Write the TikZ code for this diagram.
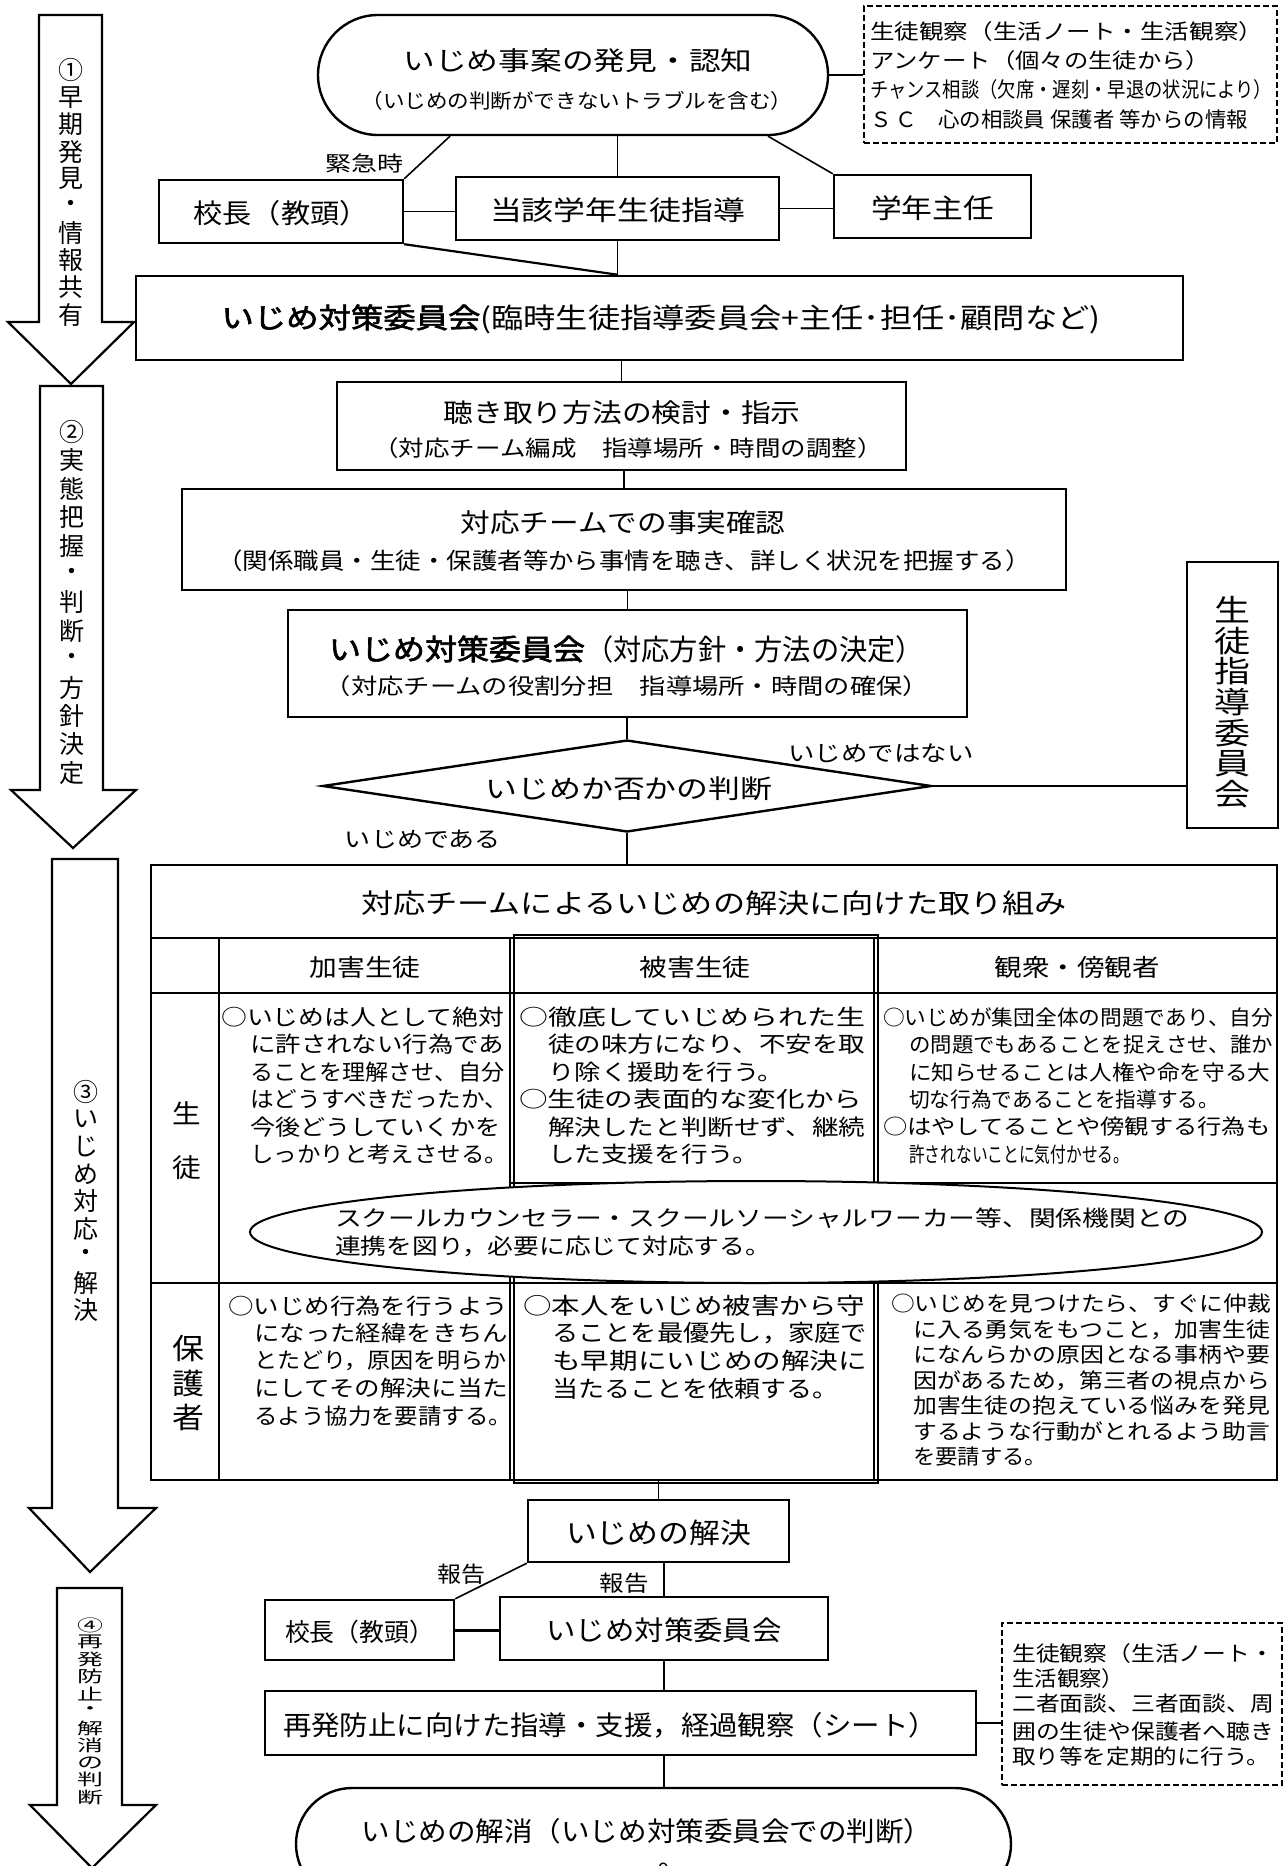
\documentclass[tikz,border=0pt]{standalone}
\usepackage{fontspec}
\setmainfont{Noto Sans CJK JP}
\newfontfamily\jpb{Noto Sans CJK JP}[FakeBold=2]
\usetikzlibrary{shapes.geometric,fit,calc}
\newcommand\W[2]{\resizebox{#1pt}{\height}{#2}}
\newcommand\fs[1]{\fontsize{#1}{#1}\selectfont}
\newcommand\TL[4]{\node[anchor=west,inner sep=0pt] at (#1,#2) {\W{#3}{#4}};}
\begin{document}
\begin{tikzpicture}[x=1pt,y=-1pt,
  bx/.style={draw, line width=2.4pt, inner sep=0pt},
  cn/.style={line width=1.6pt},
  dbox/.style={draw, line width=1.5pt, dash pattern=on 6pt off 3pt, inner sep=0pt},
  tc/.style={inner sep=0pt},
  barrow/.style={draw, line width=2.2pt, fill=white, line join=miter}]
\useasboundingbox (0,0) rectangle (1284,1866);
\fill[white] (0,0) rectangle (1284,1866);

% ---------- left block arrows ----------
\draw[barrow] (39,15) -- (102,15) -- (102,322) -- (134,322) -- (71,384) -- (8,322) -- (39,322) -- cycle;
\draw[barrow] (40,386) -- (103,386) -- (103,790) -- (136,790) -- (73,848) -- (11,790) -- (40,790) -- cycle;
\draw[barrow] (52,859) -- (118,859) -- (118,1508) -- (156,1508) -- (90,1572) -- (29,1508) -- (52,1508) -- cycle;
\draw[barrow] (57,1588) -- (122,1588) -- (122,1805) -- (156,1805) -- (92,1868) -- (30,1805) -- (57,1805) -- cycle;
\foreach \c [count=\i from 0] in {①,早,期,発,見,・,情,報,共,有}
  \node[tc,font=\fs{25}] at (71,{70+27.2*\i}) {\c};
\foreach \c [count=\i from 0] in {②,実,態,把,握,・,判,断,・,方,針,決,定}
  \node[tc,font=\fs{25}] at (72,{432+28.4*\i}) {\c};
\foreach \c [count=\i from 0] in {③,い,じ,め,対,応,・,解,決}
  \node[tc,font=\fs{25}] at (86,{1092+27.3*\i}) {\c};
\foreach \c [count=\i from 0] in {④,再,発,防,止,・,解,消,の,判,断}
  \node[tc,font=\fs{26}] at (90,{1625+17.2*\i}) {\scalebox{1}[0.62]{\c}};

% ---------- top part ----------
\node[bx, rounded corners=60pt, fit={(318,15)(828,135)}] (oval) {};
\node[tc,font=\fs{26}] at (578,61) {\W{349}{いじめ事案の発見・認知}};
\node[tc,font=\fs{20}] at (577,101) {\W{431}{（いじめの判断ができないトラブルを含む）}};

\node[dbox, fit={(864,6)(1277,143)}] (dash1) {};
\begin{scope}[font=\fs{21}]
\TL{870}{32}{393}{生徒観察（生活ノート・生活観察）}
\TL{870}{61}{340}{アンケート（個々の生徒から）}
\TL{870}{90}{402}{チャンス相談（欠席・遅刻・早退の状況により）}
\TL{870}{119}{378}{Ｓ\,Ｃ　心の相談員 保護者 等からの情報}
\end{scope}
\draw[cn] (oval.east) -- (oval.east -| dash1.west);

\node[tc,font=\fs{21}] (kinkyu) at (364,163) {\W{78}{緊急時}};
\node[bx, fit={(159,180)(403,243)}] (kocho) {};
\node[tc,font=\fs{27}] at ($(kocho.center)+(0,2)$) {\W{175}{校長（教頭）}};
\node[bx, fit={(456,177)(779,240)}] (toga) {};
\node[tc,font=\fs{27}] at ($(toga.center)+(0,2)$) {\W{255}{当該学年生徒指導}};
\node[bx, fit={(834,175)(1031,238)}] (gakunen) {};
\node[tc,font=\fs{27}] at ($(gakunen.center)+(0,2)$) {\W{123}{学年主任}};

\draw[cn] ($(oval.south)+(-123,0)$) -- (kocho.north east);
\draw[cn] (toga.north |- oval.south) -- (toga.north);
\draw[cn] ($(oval.south)+(195,0)$) -- (gakunen.north west);
\draw[cn] (kocho.east) -- (kocho.east -| toga.west);
\draw[cn] (toga.east) -- (toga.east -| gakunen.west);

\node[bx, line width=2.6pt, fit={(136,276)(1183,360)}] (big) {};
\node[tc,font=\fs{28}] at (661,319)
  {\W{259}{\jpb いじめ対策委員会}\W{620}{(臨時生徒指導委員会+主任･担任･顧問など)}};
\draw[cn, line width=2.2pt] (kocho.south east) -- (toga.south |- big.north);
\draw[cn] (toga.south) -- (toga.south |- big.north);

% ---------- middle flow ----------
\node[bx, fit={(337,382)(906,470)}] (kiki) {};
\node[tc,font=\fs{26}] at (622,413) {\W{357}{聴き取り方法の検討・指示}};
\node[tc,font=\fs{22}] at (628,448) {\W{509}{（対応チーム編成　指導場所・時間の調整）}};
\draw[cn] (kiki.north |- big.south) -- (kiki.north);

\node[bx, fit={(182,489)(1066,590)}] (jijitsu) {};
\node[tc,font=\fs{26}] at (623,523) {\W{325}{対応チームでの事実確認}};
\node[tc,font=\fs{23}] at (624,561) {\W{813}{（関係職員・生徒・保護者等から事情を聴き、詳しく状況を把握する）}};
\draw[cn] (jijitsu.north |- kiki.south) -- (jijitsu.north);

\node[bx, fit={(288,610)(967,717)}] (hoshin) {};
\node[tc,font=\fs{29}] at (626.5,649) {\W{256}{\jpb いじめ対策委員会}\W{339}{（対応方針・方法の決定）}};
\node[tc,font=\fs{22}] at (627,686) {\W{604}{（対応チームの役割分担　指導場所・時間の確保）}};
\draw[cn] (hoshin.north |- jijitsu.south) -- (hoshin.north);

\node[draw, line width=2.4pt, diamond, minimum width=609pt, minimum height=92pt, inner sep=0pt] (dia) at (627,786) {};
\node[tc,font=\fs{26}] at (629,789) {\W{287}{いじめか否かの判断}};
\draw[cn] (dia.north |- hoshin.south) -- (dia.north);

\node[bx, fit={(1187,562)(1278,828)}] (shido) {};
\foreach \c [count=\i from 0] in {生,徒,指,導,委,員,会}
  \node[tc,font=\fs{30}] at (1232,{610+30.7*\i}) {\scalebox{1.2}[1]{\c}};
\draw[cn] (dia.east) -- (dia.east -| shido.west);
\node[tc,font=\fs{22}] (nai) at (881,753) {\W{185}{いじめではない}};
\node[tc,font=\fs{22}] (aru) at (423,839) {\W{156}{いじめである}};

% ---------- table ----------
\node[draw, line width=2.6pt, inner sep=0pt, fit={(151,865)(1277,1480)}] (table) {};
\node[inner sep=0pt, fit={(151,865)(1277,938)}] (title) {};
\node[tc,font=\fs{27}] at ($(title.center)+(0,2)$) {\W{706}{対応チームによるいじめの解決に向けた取り組み}};
\draw[cn] (dia.south) -- (dia.south |- table.north);
\draw[line width=2.4pt] (151,938) -- (1277,938);
\draw[line width=1.2pt] (151,993) -- (1277,993);
\draw[line width=1.2pt] (151,1283) -- (1277,1283);
\draw[line width=1.2pt] (219,938) -- (219,1480);
\draw[line width=1.2pt] (510,938) -- (510,1480);
\draw[line width=1.2pt] (874,938) -- (874,1480);
\draw[line width=1.2pt] (514,935) rectangle (878,1483);
\draw[line width=1.2pt] (510,1183) -- (1277,1183);

\node[tc,font=\fs{24}] (h1) at (365,967) {\W{111}{加害生徒}};
\node[tc,font=\fs{24}] (h2) at (695,967) {\W{111}{被害生徒}};
\node[tc,font=\fs{24}] (h3) at (1077,967) {\W{165}{観衆・傍観者}};

\node[tc,font=\fs{26}] (ra) at (187,1113) {\scalebox{1.1}[1]{生}};
\node[tc,font=\fs{26}] (rb) at (187,1168) {\scalebox{1.1}[1]{徒}};
\node[tc,font=\fs{29}] (rc) at (188,1349) {\scalebox{1.1}[1]{保}};
\node[tc,font=\fs{29}] (rd) at (188,1383) {\scalebox{1.1}[1]{護}};
\node[tc,font=\fs{29}] (re) at (188,1417) {\scalebox{1.1}[1]{者}};

\begin{scope}[font=\fs{22}]
\TL{221}{1017}{283}{○いじめは人として絶対}
\TL{250}{1044.5}{254}{に許されない行為であ}
\TL{250}{1072}{254}{ることを理解させ、自分}
\TL{250}{1099.5}{258}{はどうすべきだったか、}
\TL{250}{1127}{250}{今後どうしていくかを}
\TL{250}{1154.5}{258}{しっかりと考えさせる。}
\TL{519}{1017}{346}{○徹底していじめられた生}
\TL{548}{1044.5}{317}{徒の味方になり、不安を取}
\TL{548}{1072}{236}{り除く援助を行う。}
\TL{519}{1099.5}{343}{○生徒の表面的な変化から}
\TL{548}{1127}{317}{解決したと判断せず、継続}
\TL{548}{1154.5}{211}{した支援を行う。}
\end{scope}
\begin{scope}[font=\fs{21}]
\TL{883}{1017}{390}{○いじめが集団全体の問題であり、自分}
\TL{909}{1044.5}{364}{の問題でもあることを捉えさせ、誰か}
\TL{909}{1072}{361}{に知らせることは人権や命を守る大}
\TL{909}{1099.5}{310}{切な行為であることを指導する。}
\TL{883}{1127}{387}{○はやしてることや傍観する行為も}
\TL{909}{1154.5}{220}{許されないことに気付かせる。}
\end{scope}

\node[draw, ellipse, line width=2pt, fill=white, minimum width=1012pt, minimum height=102pt, inner sep=0pt] (ell) at (756,1232) {};
\begin{scope}[font=\fs{22}]
\TL{335}{1218}{854}{スクールカウンセラー・スクールソーシャルワーカー等、関係機関との}
\TL{335}{1246}{436}{連携を図り，必要に応じて対応する。}
\end{scope}

\begin{scope}[font=\fs{22}]
\TL{228}{1306}{280}{○いじめ行為を行うよう}
\TL{254}{1333.5}{254}{になった経緯をきちん}
\TL{254}{1361}{252}{とたどり，原因を明らか}
\TL{254}{1388.5}{254}{にしてその解決に当た}
\TL{254}{1416}{258}{るよう協力を要請する。}
\end{scope}
\begin{scope}[font=\fs{23}]
\TL{523}{1306}{342}{○本人をいじめ被害から守}
\TL{552}{1333.5}{315}{ることを最優先し，家庭で}
\TL{552}{1361}{315}{も早期にいじめの解決に}
\TL{552}{1388.5}{286}{当たることを依頼する。}
\end{scope}
\begin{scope}[font=\fs{21}]
\TL{891}{1304}{380}{○いじめを見つけたら、すぐに仲裁}
\TL{913}{1329.5}{357}{に入る勇気をもつこと，加害生徒}
\TL{913}{1355}{357}{になんらかの原因となる事柄や要}
\TL{913}{1380.5}{357}{因があるため，第三者の視点から}
\TL{913}{1406}{357}{加害生徒の抱えている悩みを発見}
\TL{913}{1431.5}{357}{するような行動がとれるよう助言}
\TL{913}{1457}{134}{を要請する。}
\end{scope}

% ---------- bottom part ----------
\node[bx, fit={(528,1500)(789,1562)}] (kaiketsu) {};
\node[tc,font=\fs{28}] at ($(kaiketsu.center)+(0,2)$) {\W{185}{いじめの解決}};
\draw[cn] (kaiketsu.north |- table.south) -- (kaiketsu.north);
\node[bx, fit={(265,1600)(454,1660)}] (kocho2) {};
\node[tc,font=\fs{25}] at ($(kocho2.center)+(0,2)$) {\W{149}{校長（教頭）}};
\node[bx, fit={(500,1597)(828,1660)}] (iinkai3) {};
\node[tc,font=\fs{27}] at ($(iinkai3.center)+(0,2)$) {\W{235}{いじめ対策委員会}};
\draw[cn] (kaiketsu.south west) -- (kocho2.north east);
\draw[cn] (iinkai3.north |- kaiketsu.south) -- (iinkai3.north);
\node[tc,font=\fs{22}] (hokoku1) at (461,1574) {\W{48}{報告}};
\node[tc,font=\fs{22}] (hokoku2) at (624,1583) {\W{49}{報告}};
\draw[line width=3pt] (kocho2.east) -- (kocho2.east -| iinkai3.west);

\node[bx, fit={(265,1691)(976,1755)}] (saihatsu) {};
\node[tc,font=\fs{27}] at (610,1725) {\W{654}{再発防止に向けた指導・支援，経過観察（シート）}};
\draw[cn] (iinkai3.south) -- (iinkai3.south |- saihatsu.north);

\node[dbox, fit={(1002,1623)(1282,1785)}] (dash2) {};
\begin{scope}[font=\fs{21}]
\TL{1012}{1653}{262}{生徒観察（生活ノート・}
\TL{1012}{1678}{112}{生活観察）}
\TL{1012}{1704}{262}{二者面談、三者面談、周}
\TL{1012}{1731}{262}{囲の生徒や保護者へ聴き}
\TL{1012}{1756}{258}{取り等を定期的に行う。}
\end{scope}
\draw[line width=2pt] (saihatsu.east) -- (saihatsu.east -| dash2.west);

\node[bx, rounded corners=56pt, fit={(296,1788)(1011,1900)}] (kaisho) {};
\node[tc,font=\fs{27}] at (647,1831) {\W{571}{いじめの解消（いじめ対策委員会での判断）}};
\draw[cn] (iinkai3.south |- saihatsu.south) -- (iinkai3.south |- kaisho.north);
\node[tc,font=\fs{20}] (pg) at (664,1870) {9};
\end{tikzpicture}
\end{document}
